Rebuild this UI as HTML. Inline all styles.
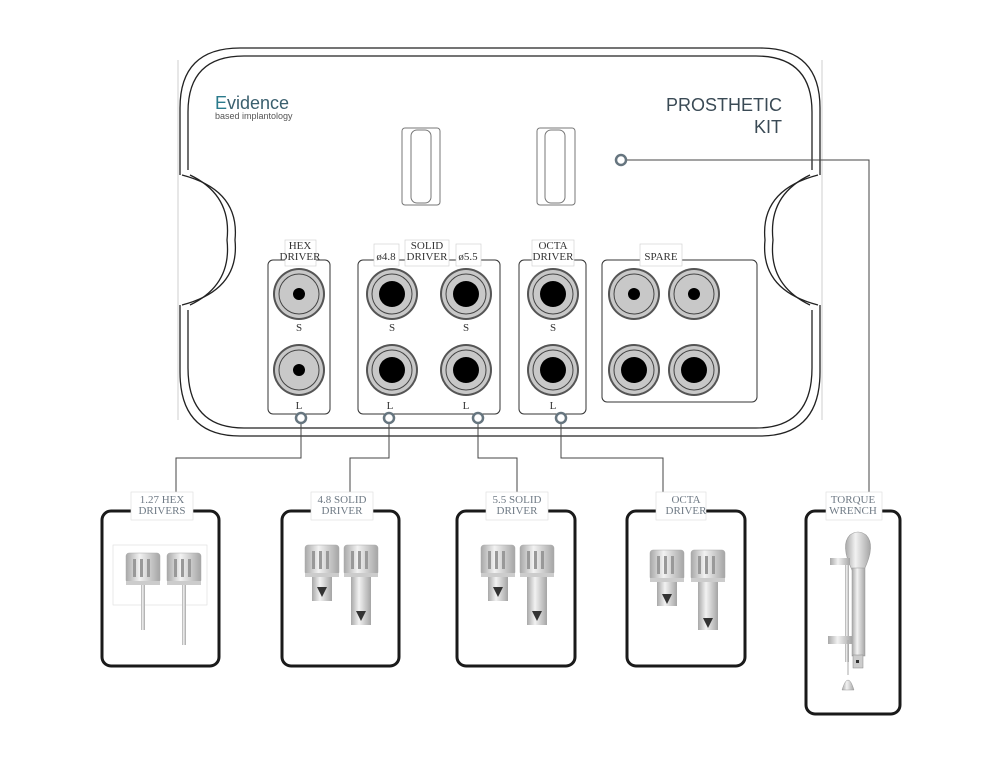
<!DOCTYPE html>
<html><head><meta charset="utf-8"><style>
html,body{margin:0;padding:0;background:#fff;}
svg{display:block}
.lab{font-family:"Liberation Serif",serif;font-size:11px;fill:#333;text-anchor:middle}
.blab{font-family:"Liberation Serif",serif;font-size:11px;fill:#6f7a85;text-anchor:middle}
</style></head><body>
<svg width="1000" height="768" viewBox="0 0 1000 768" xmlns="http://www.w3.org/2000/svg">
<defs>
<g id="sockS"><circle r="26" fill="#555"/><circle r="24" fill="#c8c8c8"/><circle r="20" fill="none" stroke="#444" stroke-width="1"/><circle r="6" fill="#000"/></g>
<g id="sockL"><circle r="26" fill="#555"/><circle r="24" fill="#c8c8c8"/><circle r="20" fill="none" stroke="#444" stroke-width="1"/><circle r="13" fill="#000"/></g>
<linearGradient id="met" x1="0" x2="1"><stop offset="0" stop-color="#a8a8a8"/><stop offset=".4" stop-color="#f2f2f2"/><stop offset="1" stop-color="#a5a5a5"/></linearGradient>
<g id="head"><rect x="-17" y="0" width="34" height="30" rx="3" fill="url(#met)" stroke="#aaa" stroke-width=".5"/><rect x="-10" y="6" width="3" height="18" fill="#999"/><rect x="-3" y="6" width="3" height="18" fill="#999"/><rect x="4" y="6" width="3" height="18" fill="#999"/><rect x="-17" y="28" width="34" height="4" fill="#ccc"/></g>
</defs>

<g fill="none" stroke="#222" stroke-width="1.3">
<path d="M240 48 H760 Q820 48 820 108 V175 M820 305 V372 Q820 436 760 436 H240 Q180 436 180 372 V305 M180 175 V108 Q180 48 240 48"/>
<path d="M244 56 H756 Q812 56 812 112 V170 M812 310 V368 Q812 428 756 428 H244 Q188 428 188 368 V310 M188 170 V112 Q188 56 244 56"/>
<path d="M182 175 Q240 190 235 240 Q240 290 182 305"/>
<path d="M190 175 Q232 195 227 240 Q232 285 190 305"/>
<path d="M818 175 Q760 190 765 240 Q760 290 818 305"/>
<path d="M810 175 Q768 195 773 240 Q768 285 810 305"/>
</g>
<g stroke="#bbb" stroke-width=".7" fill="none">
<line x1="178" y1="60" x2="178" y2="420"/><line x1="822" y1="60" x2="822" y2="420"/>
</g>

<text x="215" y="109" font-family="Liberation Sans,sans-serif" font-size="18" fill="#2a7a8c">E<tspan fill="#3a5f6e">vidence</tspan></text>
<text x="215" y="119" font-family="Liberation Sans,sans-serif" font-size="9" fill="#555">based implantology</text>
<text x="782" y="111" font-family="Liberation Sans,sans-serif" font-size="18" fill="#3a4a55" text-anchor="end">PROSTHETIC</text>
<text x="782" y="133" font-family="Liberation Sans,sans-serif" font-size="18" fill="#3a4a55" text-anchor="end">KIT</text>

<g fill="none" stroke="#777" stroke-width="1">
<rect x="402" y="128" width="38" height="77" rx="3"/><rect x="411" y="130" width="20" height="73" rx="6"/>
<rect x="537" y="128" width="38" height="77" rx="3"/><rect x="545" y="130" width="20" height="73" rx="6"/>
</g>

<g fill="none" stroke="#333" stroke-width="1">
<rect x="268" y="260" width="62" height="154" rx="5"/>
<rect x="358" y="260" width="142" height="154" rx="5"/>
<rect x="519" y="260" width="67" height="154" rx="5"/>
<rect x="602" y="260" width="155" height="142" rx="5"/>
</g>
<g fill="#fff" stroke="#ccc" stroke-width=".6">
<rect x="285" y="240" width="31" height="26"/>
<rect x="374" y="244" width="25" height="22"/><rect x="405" y="240" width="44" height="26"/><rect x="456" y="244" width="25" height="22"/>
<rect x="532" y="240" width="42" height="26"/>
<rect x="640" y="244" width="42" height="22"/>
</g>
<text class="lab" x="300" y="249">HEX</text><text class="lab" x="300" y="260">DRIVER</text>
<text class="lab" x="427" y="249">SOLID</text><text class="lab" x="427" y="260">DRIVER</text>
<text class="lab" x="386" y="260">ø4.8</text><text class="lab" x="468" y="260">ø5.5</text>
<text class="lab" x="553" y="249">OCTA</text><text class="lab" x="553" y="260">DRIVER</text>
<text class="lab" x="661" y="260">SPARE</text>

<use href="#sockS" x="299" y="294"/><use href="#sockS" x="299" y="370"/>
<use href="#sockL" x="392" y="294"/><use href="#sockL" x="466" y="294"/>
<use href="#sockL" x="392" y="370"/><use href="#sockL" x="466" y="370"/>
<use href="#sockL" x="553" y="294"/><use href="#sockL" x="553" y="370"/>
<use href="#sockS" x="634" y="294"/><use href="#sockS" x="694" y="294"/>
<use href="#sockL" x="634" y="370"/><use href="#sockL" x="694" y="370"/>

<text class="lab" x="299" y="331">S</text><text class="lab" x="392" y="331">S</text><text class="lab" x="466" y="331">S</text><text class="lab" x="553" y="331">S</text>
<text class="lab" x="299" y="409">L</text><text class="lab" x="390" y="409">L</text><text class="lab" x="466" y="409">L</text><text class="lab" x="553" y="409">L</text>

<g fill="none" stroke="#444" stroke-width="1">
<path d="M301 423 V458 H176 V497"/>
<path d="M389 423 V458 H350 V497"/>
<path d="M478 423 V458 H517 V497"/>
<path d="M561 423 V458 H663 V497"/>
<path d="M627 160 H869 V497"/>
</g>
<g fill="#fff" stroke="#66757f" stroke-width="2.5">
<circle cx="301" cy="418" r="5"/><circle cx="389" cy="418" r="5"/><circle cx="478" cy="418" r="5"/><circle cx="561" cy="418" r="5"/><circle cx="621" cy="160" r="5"/>
</g>

<g fill="none" stroke="#1a1a1a" stroke-width="3">
<rect x="102" y="511" width="117" height="155" rx="9"/>
<rect x="282" y="511" width="117" height="155" rx="9"/>
<rect x="457" y="511" width="118" height="155" rx="9"/>
<rect x="627" y="511" width="118" height="155" rx="9"/>
<rect x="806" y="511" width="94" height="203" rx="9"/>
</g>
<g fill="#fff" stroke="#ddd" stroke-width=".6">
<rect x="131" y="492" width="62" height="28"/>
<rect x="311" y="492" width="62" height="28"/>
<rect x="486" y="492" width="62" height="28"/>
<rect x="656" y="492" width="50" height="28"/>
<rect x="826" y="492" width="56" height="28"/>
</g>
<text class="blab" x="162" y="503">1.27 HEX</text><text class="blab" x="162" y="514">DRIVERS</text>
<text class="blab" x="342" y="503">4.8 SOLID</text><text class="blab" x="342" y="514">DRIVER</text>
<text class="blab" x="517" y="503">5.5 SOLID</text><text class="blab" x="517" y="514">DRIVER</text>
<text class="blab" x="686" y="503">OCTA</text><text class="blab" x="686" y="514">DRIVER</text>
<text class="blab" x="853" y="503">TORQUE</text><text class="blab" x="853" y="514">WRENCH</text>

<rect x="113" y="545" width="94" height="60" fill="none" stroke="#ddd" stroke-width=".6"/>
<use href="#head" x="143" y="553"/><rect x="141" y="585" width="4" height="45" fill="url(#met)"/>
<use href="#head" x="184" y="553"/><rect x="182" y="585" width="4" height="60" fill="url(#met)"/>
<g transform="translate(322,545)"><use href="#head"/><rect x="-10" y="32" width="20" height="24" fill="url(#met)"/><path d="M-5 42 H5 L0 52Z" fill="#333"/></g>
<g transform="translate(361,545)"><use href="#head"/><rect x="-10" y="32" width="20" height="48" fill="url(#met)"/><path d="M-5 66 H5 L0 76Z" fill="#333"/></g>
<g transform="translate(498,545)"><use href="#head"/><rect x="-10" y="32" width="20" height="24" fill="url(#met)"/><path d="M-5 42 H5 L0 52Z" fill="#333"/></g>
<g transform="translate(537,545)"><use href="#head"/><rect x="-10" y="32" width="20" height="48" fill="url(#met)"/><path d="M-5 66 H5 L0 76Z" fill="#333"/></g>
<g transform="translate(667,550)"><use href="#head"/><rect x="-10" y="32" width="20" height="24" fill="url(#met)"/><path d="M-5 44 H5 L0 54Z" fill="#333"/></g>
<g transform="translate(708,550)"><use href="#head"/><rect x="-10" y="32" width="20" height="48" fill="url(#met)"/><path d="M-5 68 H5 L0 78Z" fill="#333"/></g>

<g>
<path d="M852 570 Q840 545 850 535 Q858 529 866 535 Q876 545 864 570Z" fill="url(#met)" stroke="#999" stroke-width=".6"/>
<rect x="852" y="568" width="13" height="88" fill="url(#met)" stroke="#999" stroke-width=".5"/>
<rect x="845" y="562" width="4" height="100" fill="url(#met)"/>
<rect x="830" y="558" width="20" height="7" fill="url(#met)"/>
<rect x="828" y="636" width="24" height="8" fill="url(#met)"/>
<rect x="853" y="655" width="10" height="13" fill="#ccc" stroke="#888" stroke-width=".5"/>
<rect x="856" y="660" width="3" height="3" fill="#333"/>
<line x1="848" y1="640" x2="848" y2="675" stroke="#aaa" stroke-width="1"/>
<path d="M842 690 Q848 670 854 690Z" fill="url(#met)" stroke="#999" stroke-width=".5"/>
</g>
</svg>
</body></html>
